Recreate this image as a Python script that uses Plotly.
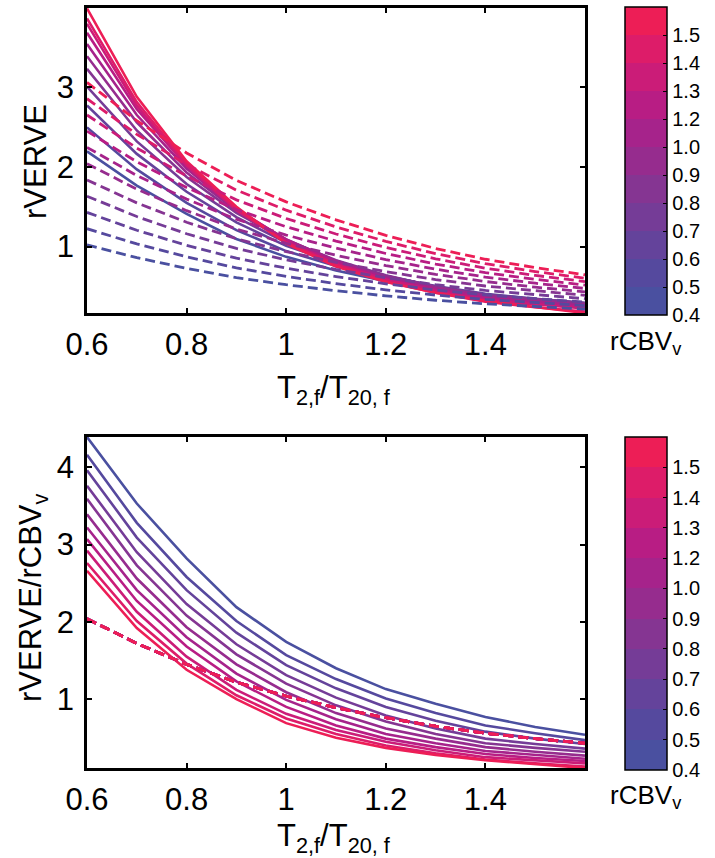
import plotly.graph_objects as go

# ---------------- data ----------------
x_ratio = [0.6, 0.7, 0.8, 0.9, 1.0, 1.1, 1.2, 1.3, 1.4, 1.5, 1.6]
rcbv = [0.5, 0.6, 0.7, 0.8, 0.9, 1.0, 1.1, 1.2, 1.3, 1.4, 1.5]

# top panel, solid curves (rVERVE), one row per rCBV value
top_solid = [
    [2.195, 1.765, 1.41, 1.095, 0.87, 0.70, 0.565, 0.47, 0.385, 0.32, 0.27],
    [2.496, 1.968, 1.548, 1.206, 0.942, 0.756, 0.606, 0.492, 0.396, 0.336, 0.282],
    [2.772, 2.163, 1.687, 1.302, 1.008, 0.798, 0.63, 0.504, 0.406, 0.343, 0.294],
    [3.008, 2.32, 1.784, 1.368, 1.048, 0.816, 0.632, 0.496, 0.392, 0.336, 0.288],
    [3.231, 2.457, 1.872, 1.422, 1.08, 0.828, 0.639, 0.495, 0.387, 0.333, 0.288],
    [3.39, 2.56, 1.93, 1.45, 1.09, 0.82, 0.62, 0.49, 0.38, 0.32, 0.27],
    [3.542, 2.651, 1.98, 1.463, 1.089, 0.814, 0.605, 0.473, 0.363, 0.308, 0.253],
    [3.684, 2.724, 2.016, 1.476, 1.08, 0.792, 0.588, 0.456, 0.348, 0.288, 0.24],
    [3.796, 2.769, 2.015, 1.456, 1.053, 0.78, 0.585, 0.442, 0.325, 0.273, 0.221],
    [3.864, 2.814, 2.044, 1.47, 1.05, 0.77, 0.56, 0.42, 0.308, 0.238, 0.182],
    [3.99, 2.88, 2.07, 1.50, 1.035, 0.75, 0.555, 0.42, 0.315, 0.24, 0.165],
]

# top panel, dashed curves (rVERVE)
top_dashed = [
    [1.02, 0.86, 0.725, 0.61, 0.52, 0.445, 0.38, 0.325, 0.28, 0.245, 0.215],
    [1.224, 1.032, 0.87, 0.732, 0.624, 0.534, 0.456, 0.39, 0.336, 0.294, 0.258],
    [1.428, 1.204, 1.015, 0.854, 0.728, 0.623, 0.532, 0.455, 0.392, 0.343, 0.301],
    [1.632, 1.376, 1.16, 0.976, 0.832, 0.712, 0.608, 0.52, 0.448, 0.392, 0.344],
    [1.836, 1.548, 1.305, 1.098, 0.936, 0.801, 0.684, 0.585, 0.504, 0.441, 0.387],
    [2.04, 1.72, 1.45, 1.22, 1.04, 0.89, 0.76, 0.65, 0.56, 0.49, 0.43],
    [2.244, 1.892, 1.595, 1.342, 1.144, 0.979, 0.836, 0.715, 0.616, 0.539, 0.473],
    [2.448, 2.064, 1.74, 1.464, 1.248, 1.068, 0.912, 0.78, 0.672, 0.588, 0.516],
    [2.652, 2.236, 1.885, 1.586, 1.352, 1.157, 0.988, 0.845, 0.728, 0.637, 0.559],
    [2.856, 2.408, 2.03, 1.708, 1.456, 1.246, 1.064, 0.91, 0.784, 0.686, 0.602],
    [3.06, 2.58, 2.175, 1.83, 1.56, 1.335, 1.14, 0.975, 0.84, 0.735, 0.645],
]

# bottom panel, solid curves (rVERVE / rCBV_v)
bottom_solid = [
    [4.39, 3.53, 2.82, 2.19, 1.74, 1.40, 1.13, 0.94, 0.77, 0.64, 0.54],
    [4.16, 3.28, 2.58, 2.01, 1.57, 1.26, 1.01, 0.82, 0.66, 0.56, 0.47],
    [3.96, 3.09, 2.41, 1.86, 1.44, 1.14, 0.90, 0.72, 0.58, 0.49, 0.42],
    [3.76, 2.90, 2.23, 1.71, 1.31, 1.02, 0.79, 0.62, 0.49, 0.42, 0.36],
    [3.59, 2.73, 2.08, 1.58, 1.20, 0.92, 0.71, 0.55, 0.43, 0.37, 0.32],
    [3.39, 2.56, 1.93, 1.45, 1.09, 0.82, 0.62, 0.49, 0.38, 0.32, 0.27],
    [3.22, 2.41, 1.80, 1.33, 0.99, 0.74, 0.55, 0.43, 0.33, 0.28, 0.23],
    [3.07, 2.27, 1.68, 1.23, 0.90, 0.66, 0.49, 0.38, 0.29, 0.24, 0.20],
    [2.92, 2.13, 1.55, 1.12, 0.81, 0.60, 0.45, 0.34, 0.25, 0.21, 0.17],
    [2.76, 2.01, 1.46, 1.05, 0.75, 0.55, 0.40, 0.30, 0.22, 0.17, 0.13],
    [2.66, 1.92, 1.38, 1.00, 0.69, 0.50, 0.37, 0.28, 0.21, 0.16, 0.11],
]

# bottom panel, dashed curve (all rCBV values coincide)
bottom_dashed = [2.04, 1.72, 1.45, 1.22, 1.04, 0.89, 0.76, 0.65, 0.56, 0.49, 0.43]

line_colors = ["#4a50a0", "#55499e", "#64439b", "#753c97", "#853592", "#962c8e",
               "#a6238b", "#b81d84", "#cb1c78", "#dd1c69", "#ed1e56"]

cbar_tickvals = [0, 1, 2, 3, 4, 5, 6, 7, 8, 9, 10]
cbar_ticktext = ["0.4", "0.5", "0.6", "0.7", "0.8", "0.9", "1.0", "1.2", "1.3", "1.4", "1.5"]

x_tickvals = [0.6, 0.8, 1.0, 1.2, 1.4]
x_ticktext = ["0.6", "0.8", "1", "1.2", "1.4"]

# ---------------- figure ----------------
W, H = 715, 858
FONT = "Liberation Sans, Arial, Helvetica, sans-serif"

fig = go.Figure()

def px_x(p):
    return p / W

def px_y(p):
    return 1 - p / H

n = len(rcbv)
SOLID_W = 2.6
DASH_W = 2.8
DASH = "10px,5px"
# top panel
for i in range(n):
    fig.add_trace(go.Scatter(x=x_ratio, y=top_solid[i], mode="lines",
                             line=dict(color=line_colors[i], width=SOLID_W),
                             xaxis="x", yaxis="y", showlegend=False, hoverinfo="skip"))
for i in range(n):
    fig.add_trace(go.Scatter(x=x_ratio, y=top_dashed[i], mode="lines",
                             line=dict(color=line_colors[i], width=DASH_W, dash=DASH),
                             xaxis="x", yaxis="y", showlegend=False, hoverinfo="skip"))
# bottom panel
for i in range(n):
    fig.add_trace(go.Scatter(x=x_ratio, y=bottom_solid[i], mode="lines",
                             line=dict(color=line_colors[i], width=SOLID_W),
                             xaxis="x2", yaxis="y2", showlegend=False, hoverinfo="skip"))
for i in range(n):
    fig.add_trace(go.Scatter(x=x_ratio, y=bottom_dashed, mode="lines",
                             line=dict(color=line_colors[i], width=DASH_W, dash=DASH),
                             xaxis="x2", yaxis="y2", showlegend=False, hoverinfo="skip"))

# discrete colorscale
cs = []
nb = len(line_colors)
for k, c in enumerate(line_colors):
    cs.append([k / nb, c])
    cs.append([(k + 1) / nb, c])

def cbar_trace(xa, ya, yc, length):
    return go.Scatter(
        x=[1.0, 1.0], y=[1.0, 1.0], mode="markers", xaxis=xa, yaxis=ya,
        marker=dict(size=0.01, opacity=0, color=[0, nb], colorscale=cs, cmin=0, cmax=nb,
                    showscale=True,
                    colorbar=dict(x=px_x(625), xanchor="left", xpad=0, ypad=0,
                                  y=yc, yanchor="middle", len=length, lenmode="pixels",
                                  thickness=42, thicknessmode="pixels",
                                  outlinecolor="black", outlinewidth=1.5,
                                  tickvals=cbar_tickvals, ticktext=cbar_ticktext,
                                  ticks="inside", ticklen=4, tickcolor="black",
                                  tickfont=dict(family=FONT, size=20, color="black"))),
        showlegend=False, hoverinfo="skip")

fig.add_trace(cbar_trace("x", "y", px_y((7 + 315) / 2), 308))
fig.add_trace(cbar_trace("x2", "y2", px_y((437 + 770) / 2), 333))

axis_common = dict(showline=True, linecolor="black", linewidth=2.8, mirror="ticks",
                   ticks="inside", ticklen=5, tickwidth=2, tickcolor="black",
                   showgrid=False, zeroline=False, automargin=False,
                   tickfont=dict(family=FONT, size=31, color="black"))

xd = [px_x(87), px_x(585)]
fig.update_layout(
    width=W, height=H, margin=dict(l=0, r=0, t=0, b=0, autoexpand=False),
    paper_bgcolor="white", plot_bgcolor="white",
    xaxis=dict(domain=xd, range=[0.6, 1.6], tickvals=x_tickvals, ticktext=x_ticktext,
               anchor="y", ticklabelstandoff=2, **axis_common),
    yaxis=dict(domain=[px_y(313), px_y(8)], range=[0.165, 3.995], tickvals=[1, 2, 3],
               anchor="x", ticklabelstandoff=4, **axis_common),
    xaxis2=dict(domain=xd, range=[0.6, 1.6], tickvals=x_tickvals, ticktext=x_ticktext,
                anchor="y2", ticklabelstandoff=2, **axis_common),
    yaxis2=dict(domain=[px_y(768), px_y(437)], range=[0.11, 4.39], tickvals=[1, 2, 3, 4],
                anchor="x2", ticklabelstandoff=4, **axis_common),
)

ann_font = dict(family=FONT, size=31, color="black")
cb_font = dict(family=FONT, size=26, color="black")
annotations = [
    dict(text="rVERVE", x=px_x(36), y=px_y(162), textangle=-90, font=ann_font),
    dict(text="rVERVE/rCBV<sub>v</sub>", x=px_x(33), y=px_y(598), textangle=-90, font=ann_font),
    dict(text="T<sub>2,f</sub>/T<sub>20, f</sub>", x=px_x(334), y=px_y(390), font=ann_font),
    dict(text="T<sub>2,f</sub>/T<sub>20, f</sub>", x=px_x(334), y=px_y(838), font=ann_font),
    dict(text="rCBV<sub>v</sub>", x=px_x(646), y=px_y(343), font=cb_font),
    dict(text="rCBV<sub>v</sub>", x=px_x(646), y=px_y(796), font=cb_font),
]
for a in annotations:
    a.update(xref="paper", yref="paper", showarrow=False, xanchor="center", yanchor="middle")
fig.update_layout(annotations=annotations)

fig.write_html("out.html")
